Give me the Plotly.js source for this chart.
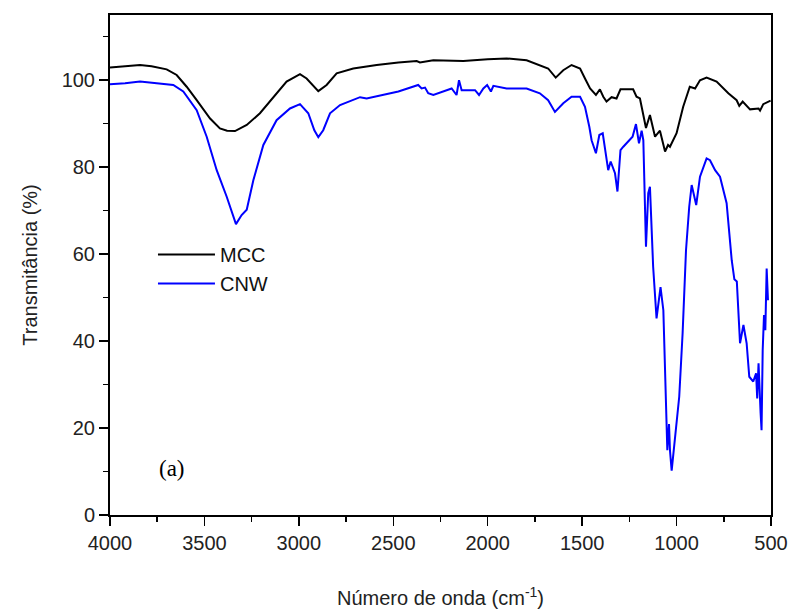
<!DOCTYPE html>
<html>
<head>
<meta charset="utf-8">
<script src="https://cdn.plot.ly/plotly-3.0.1.min.js"></script>
<style>
  html, body { margin: 0; padding: 0; background: #fff; }
  #chart { width: 791px; height: 616px; }
</style>
</head>
<body>
<div id="chart"></div>
<script>
// FTIR spectra: wavenumber (cm-1) and transmittance (%)
const wnMCC = [4000, 3920, 3841, 3780, 3700, 3647, 3594, 3541, 3470, 3418, 3380, 3338, 3276, 3206, 3135, 3065, 2994, 2959, 2897, 2853, 2800, 2712, 2588, 2473, 2376, 2359, 2288, 2129, 2000, 1900, 1794, 1724, 1680, 1640, 1600, 1556, 1511, 1485, 1458, 1427, 1406, 1388, 1371, 1344, 1318, 1297, 1230, 1212, 1194, 1185, 1162, 1141, 1127, 1114, 1088, 1061, 1045, 1035, 1000, 965, 930, 902, 876, 841, 788, 726, 682, 668, 650, 611, 566, 558, 541, 514, 502];
const tMCC  = [102.9, 103.2, 103.5, 103.2, 102.5, 101.2, 98.5, 95.4, 91.2, 88.9, 88.4, 88.3, 89.7, 92.4, 96.2, 99.7, 101.4, 100.4, 97.5, 98.9, 101.6, 102.7, 103.5, 104.1, 104.4, 104.1, 104.6, 104.4, 104.8, 105.0, 104.6, 103.5, 102.7, 100.6, 102.3, 103.5, 102.7, 100.4, 98.1, 96.6, 97.9, 96.2, 95.1, 96.1, 95.8, 97.9, 97.9, 96.2, 95.8, 93.9, 89.0, 92.0, 89.7, 87.0, 88.4, 83.6, 85.1, 84.7, 87.8, 93.9, 98.5, 98.1, 100.0, 100.6, 99.7, 97.0, 95.4, 94.1, 95.1, 93.3, 93.5, 93.0, 94.5, 95.1, 95.3];

const wnCNW = [4000, 3920, 3841, 3740, 3665, 3612, 3541, 3488, 3435, 3382, 3333, 3303, 3276, 3241, 3188, 3118, 3047, 2994, 2950, 2918, 2897, 2871, 2835, 2782, 2676, 2641, 2553, 2473, 2368, 2350, 2332, 2315, 2288, 2218, 2191, 2165, 2152, 2138, 2103, 2067, 2046, 2023, 2003, 1983, 1970, 1900, 1794, 1724, 1680, 1644, 1600, 1556, 1511, 1485, 1462, 1450, 1427, 1409, 1391, 1371, 1362, 1349, 1326, 1313, 1297, 1282, 1256, 1233, 1215, 1199, 1185, 1176, 1162, 1150, 1141, 1124, 1106, 1085, 1070, 1056, 1049, 1040, 1035, 1026, 1008, 1000, 986, 968, 950, 933, 920, 896, 876, 841, 823, 796, 770, 735, 708, 694, 681, 664, 646, 629, 615, 594, 579, 573, 566, 555, 550, 544, 537, 530, 523, 516];
const tCNW  = [99.1, 99.3, 99.7, 99.2, 98.9, 97.4, 93.1, 87.0, 79.3, 73.2, 66.9, 69.0, 70.2, 77.0, 85.1, 90.8, 93.5, 94.5, 92.4, 88.5, 86.9, 88.5, 92.4, 94.3, 96.1, 95.8, 96.6, 97.4, 98.9, 98.1, 98.3, 97.0, 96.6, 97.7, 98.1, 96.6, 100.0, 97.7, 97.7, 97.7, 96.6, 98.1, 98.9, 97.4, 98.7, 98.1, 98.1, 97.0, 95.4, 92.7, 94.7, 96.2, 96.2, 93.9, 89.3, 86.2, 83.2, 87.4, 87.8, 82.4, 79.3, 81.3, 78.6, 74.4, 83.9, 84.7, 85.9, 87.0, 89.9, 85.5, 88.4, 86.2, 61.7, 74.0, 75.5, 57.1, 45.2, 52.4, 47.1, 26.4, 14.9, 20.9, 14.9, 10.2, 17.2, 20.3, 27.2, 41.8, 60.9, 70.9, 75.9, 71.3, 77.8, 82.0, 81.6, 79.3, 77.8, 71.7, 58.6, 54.2, 53.7, 39.5, 43.7, 39.5, 31.8, 30.7, 32.6, 26.8, 34.9, 23.4, 19.5, 37.9, 46.0, 42.5, 56.7, 49.4];

const seriesNames = ['MCC', 'CNW'];

const sans = 'Arial, "Liberation Sans", sans-serif';

const traces = [
  { x: wnMCC, y: tMCC, name: seriesNames[0], type: 'scatter', mode: 'lines',
    line: { color: '#000000', width: 2 } },
  { x: wnCNW, y: tCNW, name: seriesNames[1], type: 'scatter', mode: 'lines',
    line: { color: '#0000ff', width: 2 } }
];

const axisCommon = {
  showline: true, mirror: true, linecolor: '#000', linewidth: 2,
  showgrid: false, zeroline: false,
  ticks: 'outside', ticklen: 9, tickwidth: 1.5, tickcolor: '#000',
  tickfont: { family: sans, size: 20, color: '#222' }
};

const layout = {
  width: 791, height: 616,
  margin: { l: 110, r: 20, t: 15, b: 101 },
  paper_bgcolor: '#fff', plot_bgcolor: '#fff',
  showlegend: true,
  legend: {
    x: 0.065, y: 0.56, xanchor: 'left', yanchor: 'top',
    bgcolor: 'rgba(0,0,0,0)', borderwidth: 0,
    font: { family: sans, size: 20, color: '#111' },
    itemwidth: 57,
    tracegroupgap: 0
  },
  xaxis: Object.assign({}, axisCommon, {
    range: [4000, 500], tick0: 500, dtick: 500,
    minor: { dtick: 250, ticks: 'outside', ticklen: 5, tickwidth: 1.5, tickcolor: '#000' },
    title: { text: 'Número de onda (cm<sup>-1</sup>)', font: { family: sans, size: 20, color: '#222' }, standoff: 38 }
  }),
  yaxis: Object.assign({}, axisCommon, {
    range: [0, 115], tick0: 0, dtick: 20,
    minor: { dtick: 10, ticks: 'outside', ticklen: 5, tickwidth: 1.5, tickcolor: '#000' },
    title: { text: 'Transmitância (%)', font: { family: sans, size: 20, color: '#222' }, standoff: 19 }
  }),
  annotations: [
    { text: '(a)', xref: 'paper', yref: 'paper', x: 0.094, y: 0.094,
      xanchor: 'center', yanchor: 'middle', showarrow: false,
      font: { family: '"Times New Roman", "Liberation Serif", serif', size: 23, color: '#000' } }
  ]
};

Plotly.newPlot('chart', traces, layout, { staticPlot: true, displayModeBar: false });
</script>
</body>
</html>
